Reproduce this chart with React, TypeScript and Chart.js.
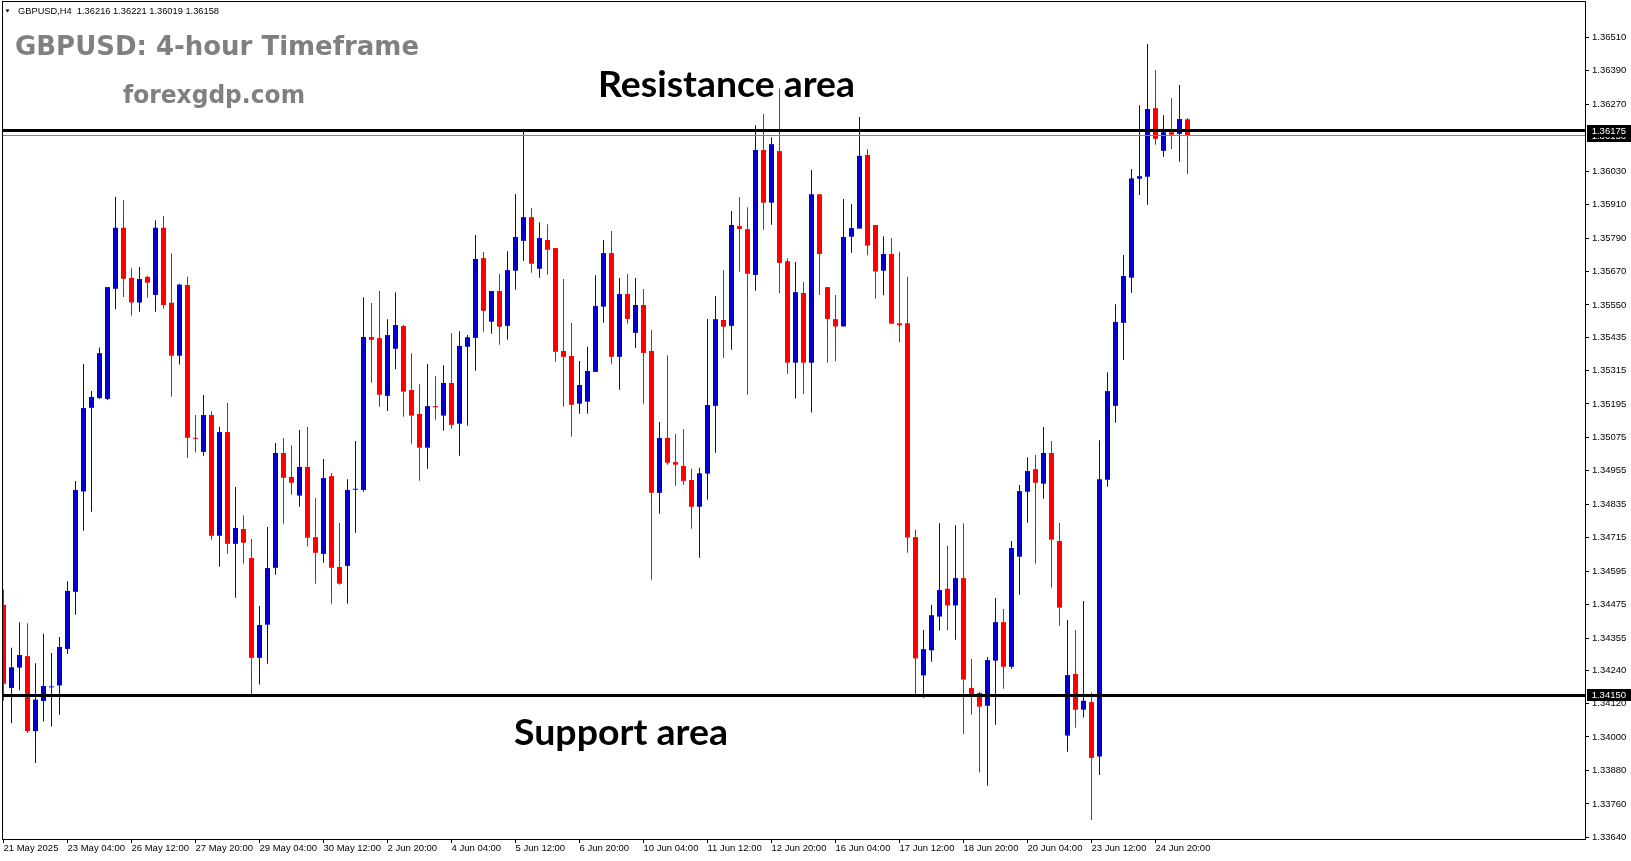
import React, { useEffect, useRef } from 'react';
import { Chart, registerables } from 'chart.js';

Chart.register(...registerables);

// ---- Candle data (GBPUSD H4), one entry per bar, oldest first ----
const opens = [
  1.34474, 1.34176, 1.34249, 1.34290, 1.34021, 1.34129, 1.34178, 1.34185, 1.34316, 1.34521,
  1.34881, 1.35181, 1.35216, 1.35213, 1.35608, 1.35827, 1.35647, 1.35559, 1.35651, 1.35586,
  1.35827, 1.35558, 1.35368, 1.35622, 1.35073, 1.35023, 1.35155, 1.34722, 1.35094, 1.34693,
  1.34746, 1.34642, 1.34284, 1.34403, 1.34607, 1.35019, 1.34933, 1.34866, 1.34969, 1.34717,
  1.34657, 1.34936, 1.34610, 1.34614, 1.34887, 1.34886, 1.35435, 1.35431, 1.35224, 1.35393,
  1.35474, 1.35245, 1.35159, 1.35038, 1.35187, 1.35153, 1.35270, 1.35124, 1.35400, 1.35432,
  1.35718, 1.35490, 1.35600, 1.35475, 1.35673, 1.35780, 1.35865, 1.35680, 1.35783, 1.35754,
  1.35385, 1.35367, 1.35196, 1.35203, 1.35310, 1.35544, 1.35736, 1.35364, 1.35589, 1.35450,
  1.35550, 1.35385, 1.34876, 1.35073, 1.34986, 1.34972, 1.34922, 1.34826, 1.34945, 1.35188,
  1.35496, 1.35475, 1.35833, 1.35822, 1.35658, 1.36106, 1.35917, 1.36102, 1.35707, 1.35343,
  1.35593, 1.35343, 1.35947, 1.35614, 1.35499, 1.35473, 1.35795, 1.35824, 1.36088, 1.35837,
  1.35673, 1.35733, 1.35484, 1.35484, 1.34717, 1.34221, 1.34311, 1.34432, 1.34532, 1.34472,
  1.34570, 1.34176, 1.34158, 1.34112, 1.34274, 1.34412, 1.34252, 1.34647, 1.34880, 1.34961,
  1.34909, 1.35019, 1.34703, 1.34005, 1.34226, 1.34098, 1.34125, 1.33930, 1.34923, 1.35188,
  1.35486, 1.35648, 1.36003, 1.36010, 1.36256, 1.36103, 1.36170, 1.36164, 1.36216,
];
const highs = [
  1.34529, 1.34320, 1.34412, 1.34408, 1.34265, 1.34370, 1.34301, 1.34359, 1.34559, 1.34918,
  1.35338, 1.35241, 1.35397, 1.35614, 1.35938, 1.35927, 1.35682, 1.35686, 1.35655, 1.35854,
  1.35869, 1.35736, 1.35626, 1.35651, 1.35155, 1.35227, 1.35169, 1.35113, 1.35198, 1.34897,
  1.34796, 1.34710, 1.34470, 1.34753, 1.35055, 1.35073, 1.35047, 1.35101, 1.35112, 1.34857,
  1.34997, 1.34947, 1.34768, 1.34925, 1.35062, 1.35578, 1.35557, 1.35600, 1.35499, 1.35596,
  1.35478, 1.35377, 1.35266, 1.35338, 1.35295, 1.35334, 1.35449, 1.35456, 1.35442, 1.35801,
  1.35740, 1.35600, 1.35661, 1.35743, 1.35948, 1.36171, 1.35898, 1.35847, 1.35840, 1.35754,
  1.35643, 1.35485, 1.35349, 1.35400, 1.35657, 1.35783, 1.35815, 1.35647, 1.35661, 1.35647,
  1.35607, 1.35460, 1.35130, 1.35370, 1.35087, 1.35105, 1.34962, 1.34966, 1.35500, 1.35582,
  1.35675, 1.35887, 1.35937, 1.35901, 1.36195, 1.36235, 1.36152, 1.36327, 1.35718, 1.35704,
  1.35632, 1.36034, 1.35947, 1.35614, 1.35586, 1.35930, 1.35912, 1.36224, 1.36109, 1.35837,
  1.35797, 1.35790, 1.35741, 1.35651, 1.34744, 1.34384, 1.34474, 1.34767, 1.34687, 1.34760,
  1.34767, 1.34280, 1.34162, 1.34287, 1.34499, 1.34459, 1.34703, 1.34904, 1.35004, 1.35012,
  1.35112, 1.35062, 1.34768, 1.34420, 1.34384, 1.34488, 1.34160, 1.35065, 1.35309, 1.35553,
  1.35729, 1.36038, 1.36267, 1.36486, 1.36393, 1.36231, 1.36292, 1.36339, 1.36221,
];
const lows = [
  1.34131, 1.34049, 1.34168, 1.34014, 1.33907, 1.34056, 1.34038, 1.34080, 1.34298, 1.34439,
  1.34740, 1.34808, 1.35213, 1.35209, 1.35535, 1.35579, 1.35512, 1.35526, 1.35577, 1.35526,
  1.35537, 1.35221, 1.35336, 1.35001, 1.35021, 1.35009, 1.34708, 1.34611, 1.34657, 1.34500,
  1.34622, 1.34154, 1.34188, 1.34263, 1.34582, 1.34765, 1.34869, 1.34826, 1.34683, 1.34550,
  1.34625, 1.34478, 1.34546, 1.34478, 1.34733, 1.34880, 1.35271, 1.35185, 1.35170, 1.35319,
  1.35149, 1.35052, 1.34919, 1.34962, 1.35138, 1.35099, 1.35106, 1.35009, 1.35117, 1.35314,
  1.35454, 1.35447, 1.35407, 1.35425, 1.35605, 1.35709, 1.35666, 1.35648, 1.35658, 1.35346,
  1.35185, 1.35077, 1.35160, 1.35160, 1.35310, 1.35486, 1.35339, 1.35246, 1.35483, 1.35396,
  1.35196, 1.34564, 1.34801, 1.34977, 1.34901, 1.34905, 1.34747, 1.34643, 1.34851, 1.35020,
  1.35361, 1.35389, 1.35669, 1.35228, 1.35601, 1.35820, 1.35838, 1.35592, 1.35303, 1.35214,
  1.35230, 1.35164, 1.35586, 1.35343, 1.35348, 1.35473, 1.35737, 1.35824, 1.35728, 1.35572,
  1.35585, 1.35483, 1.35415, 1.34661, 1.34151, 1.34141, 1.34270, 1.34382, 1.34382, 1.34349,
  1.34011, 1.34080, 1.33873, 1.33825, 1.34044, 1.34173, 1.34245, 1.34510, 1.34769, 1.34622,
  1.34855, 1.34536, 1.34399, 1.33947, 1.34033, 1.34070, 1.33702, 1.33864, 1.34898, 1.35127,
  1.35353, 1.35594, 1.35945, 1.35910, 1.36125, 1.36082, 1.36110, 1.36064, 1.36019,
];
const closes = [
  1.34191, 1.34250, 1.34294, 1.34021, 1.34134, 1.34183, 1.34180, 1.34323, 1.34524, 1.34886,
  1.35180, 1.35220, 1.35377, 1.35614, 1.35827, 1.35644, 1.35559, 1.35643, 1.35630, 1.35827,
  1.35550, 1.35368, 1.35623, 1.35074, 1.35070, 1.35155, 1.34722, 1.35094, 1.34693, 1.34750,
  1.34697, 1.34284, 1.34402, 1.34606, 1.35019, 1.34930, 1.34912, 1.34969, 1.34715, 1.34661,
  1.34929, 1.34607, 1.34550, 1.34886, 1.34890, 1.35435, 1.35425, 1.35228, 1.35442, 1.35478,
  1.35239, 1.35153, 1.35038, 1.35187, 1.35183, 1.35270, 1.35120, 1.35403, 1.35434, 1.35715,
  1.35529, 1.35600, 1.35472, 1.35675, 1.35794, 1.35865, 1.35698, 1.35790, 1.35748, 1.35382,
  1.35364, 1.35192, 1.35263, 1.35313, 1.35546, 1.35736, 1.35364, 1.35589, 1.35500, 1.35550,
  1.35378, 1.34876, 1.35073, 1.34984, 1.34977, 1.34919, 1.34826, 1.34946, 1.35191, 1.35499,
  1.35472, 1.35837, 1.35823, 1.35662, 1.36106, 1.35917, 1.36127, 1.35701, 1.35343, 1.35596,
  1.35343, 1.35947, 1.35733, 1.35500, 1.35473, 1.35794, 1.35826, 1.36085, 1.35763, 1.35670,
  1.35733, 1.35483, 1.35477, 1.34716, 1.34282, 1.34315, 1.34437, 1.34527, 1.34472, 1.34570,
  1.34206, 1.34153, 1.34109, 1.34276, 1.34412, 1.34252, 1.34678, 1.34882, 1.34954, 1.34912,
  1.35019, 1.34708, 1.34464, 1.34222, 1.34098, 1.34130, 1.33925, 1.34925, 1.35241, 1.35489,
  1.35654, 1.36004, 1.36012, 1.36253, 1.36146, 1.36170, 1.36161, 1.36217, 1.36158,
];

// ---- Axis labels ----
const xTickBars = [0, 8, 16, 24, 32, 40, 48, 56, 64, 72, 80, 88, 96, 104, 112, 120, 128, 136, 144];
const xTickLabels = [
  '21 May 2025', '23 May 04:00', '26 May 12:00', '27 May 20:00', '29 May 04:00', '30 May 12:00',
  '2 Jun 20:00', '4 Jun 04:00', '5 Jun 12:00', '6 Jun 20:00', '10 Jun 04:00', '11 Jun 12:00',
  '12 Jun 20:00', '16 Jun 04:00', '17 Jun 12:00', '18 Jun 20:00', '20 Jun 04:00', '23 Jun 12:00',
  '24 Jun 20:00',
];
const yTickLabels = [
  '1.36510', '1.36390', '1.36270', '1.36030', '1.35910', '1.35790', '1.35670', '1.35550',
  '1.35435', '1.35315', '1.35195', '1.35075', '1.34955', '1.34835', '1.34715', '1.34595',
  '1.34475', '1.34355', '1.34240', '1.34120', '1.34000', '1.33880', '1.33760', '1.33640',
];

// ---- Horizontal levels ----
const levelLabels = ['1.36158', '1.36175', '1.34150']; // bid, resistance, support
const bidLevel = parseFloat(levelLabels[0]);
const resistanceLevel = parseFloat(levelLabels[1]);
const supportLevel = parseFloat(levelLabels[2]);

const symbolName = 'GBPUSD,H4';
const titleText = 'GBPUSD: 4-hour Timeframe';
const siteText = 'forexgdp.com';
const resistanceText = 'Resistance area';
const supportText = 'Support area';

const X_MIN = -0.0625;
const X_MAX = 197.6875;
const Y_MIN = 1.33634;
const Y_MAX = 1.36637;

const BULL = '#0000cd';
const BEAR = '#ff0000';
const AXIS_FONT = { family: 'Liberation Sans', size: 9.5 };

export default function App() {
  const canvasRef = useRef<HTMLCanvasElement | null>(null);

  useEffect(() => {
    const canvas = canvasRef.current;
    if (!canvas) return;
    const colors = closes.map((c, i) => (c >= opens[i] ? BULL : BEAR));
    const wickData = highs.map((h, i) => ({ x: i, y: [lows[i], h] }));
    const bodyData = opens.map((o, i) => ({
      x: i,
      y: [Math.min(o, closes[i]), Math.max(o, closes[i])],
    }));

    const overlay = {
      id: 'mtOverlay',
      afterDatasetsDraw(chart: any) {
        const { ctx, chartArea: a } = chart;
        const ys = chart.scales.y;
        ctx.save();
        const yb = Math.floor(ys.getPixelForValue(bidLevel)) + 0.5;
        ctx.strokeStyle = '#778899';
        ctx.lineWidth = 1;
        ctx.beginPath();
        ctx.moveTo(a.left, yb);
        ctx.lineTo(a.right, yb);
        ctx.stroke();
        [resistanceLevel, supportLevel].forEach((lvl) => {
          const yy = Math.floor(ys.getPixelForValue(lvl)) + 0.5;
          ctx.strokeStyle = '#000000';
          ctx.lineWidth = 3;
          ctx.beginPath();
          ctx.moveTo(a.left, yy);
          ctx.lineTo(a.right, yy);
          ctx.stroke();
        });
        ctx.restore();
      },
      afterDraw(chart: any) {
        const { ctx, chartArea: a } = chart;
        const ys = chart.scales.y;
        ctx.save();
        ctx.strokeStyle = '#000000';
        ctx.lineWidth = 1;
        ctx.strokeRect(a.left - 0.5, a.top - 0.5, a.right - a.left + 1, a.bottom - a.top + 1);
        ctx.font = '9.5px "Liberation Sans"';
        ctx.textBaseline = 'middle';
        ctx.textAlign = 'left';
        levelLabels.forEach((txt) => {
          const v = parseFloat(txt);
          const yy = ys.getPixelForValue(v);
          ctx.fillStyle = '#000000';
          ctx.fillRect(a.right + 2, Math.round(yy) - 6, 50, 12);
          ctx.fillStyle = '#ffffff';
          ctx.fillText(txt, a.right + 6.7, yy + 0.5);
        });
        ctx.restore();
      },
    };

    const chart = new Chart(canvas, {
      type: 'bar',
      data: {
        datasets: [
          {
            data: wickData as any,
            backgroundColor: colors,
            barThickness: 1,
            grouped: false,
            borderWidth: 0,
            inflateAmount: 0,
          } as any,
          {
            data: bodyData as any,
            backgroundColor: colors,
            barThickness: 5,
            grouped: false,
            borderWidth: 0,
            inflateAmount: 0,
            minBarLength: 1,
          } as any,
        ],
      },
      options: {
        animation: false,
        responsive: false,
        maintainAspectRatio: false,
        devicePixelRatio: 1,
        events: [],
        layout: { padding: { left: 3, top: 2, right: 0, bottom: 0 } },
        plugins: {
          legend: { display: false },
          tooltip: { enabled: false },
          title: { display: false },
        },
        scales: {
          x: {
            type: 'linear',
            min: X_MIN,
            max: X_MAX,
            offset: false,
            bounds: 'data',
            grid: {
              display: true,
              drawOnChartArea: false,
              drawTicks: true,
              tickLength: 4,
              color: '#000000',
              offset: false,
            },
            border: { display: false },
            ticks: {
              autoSkip: false,
              maxRotation: 0,
              minRotation: 0,
              align: 'start',
              padding: 0,
              color: '#000000',
              font: AXIS_FONT,
              callback: (_v: any, idx: number) => xTickLabels[idx] ?? '',
            },
            afterBuildTicks: (s: any) => {
              s.ticks = xTickBars.map((b) => ({ value: b }));
            },
            afterFit: (s: any) => {
              s.height = 22;
              s.paddingLeft = 0;
              s.paddingRight = 0;
            },
          } as any,
          y: {
            type: 'linear',
            position: 'right',
            min: Y_MIN,
            max: Y_MAX,
            bounds: 'data',
            grid: {
              display: true,
              drawOnChartArea: false,
              drawTicks: true,
              tickLength: 4,
              color: '#000000',
            },
            border: { display: false },
            ticks: {
              autoSkip: false,
              padding: 3,
              color: '#000000',
              font: AXIS_FONT,
              callback: (_v: any, idx: number) => yTickLabels[idx] ?? '',
            },
            afterBuildTicks: (s: any) => {
              s.ticks = yTickLabels.map((t) => ({ value: parseFloat(t) }));
            },
            afterFit: (s: any) => {
              s.width = 46;
              s.paddingTop = 0;
              s.paddingBottom = 0;
            },
          } as any,
        },
      } as any,
      plugins: [overlay as any],
    });
    return () => chart.destroy();
  }, []);

  const last = opens.length - 1;
  const headerText = `${symbolName}  ${opens[last].toFixed(5)} ${highs[last].toFixed(5)} ${lows[last].toFixed(5)} ${closes[last].toFixed(5)}`;

  return (
    <div style={{ position: 'absolute', left: 0, top: 0, width: 1631, height: 861, background: '#ffffff', overflow: 'hidden' }}>
      <canvas
        ref={canvasRef}
        width={1631}
        height={861}
        style={{ position: 'absolute', left: 0, top: 0, width: 1631, height: 861, display: 'block' }}
      />
      <svg
        width={1631}
        height={861}
        style={{ position: 'absolute', left: 0, top: 0, pointerEvents: 'none' }}
      >
        <polygon points="5.5,9.5 9.5,9.5 7.5,12.5" fill="#000000" />
        <text
          x={18}
          y={14}
          fontFamily="Liberation Sans"
          fontSize={9.5}
          fill="#000000"
          textLength={201}
          lengthAdjust="spacingAndGlyphs"
          style={{ whiteSpace: 'pre' }}
        >
          {headerText}
        </text>
        <text x={15} y={55} fontFamily="DejaVu Sans" fontWeight="bold" fontSize={27} fill="#808080" textLength={404} lengthAdjust="spacingAndGlyphs">
          {titleText}
        </text>
        <text x={123} y={103} fontFamily="DejaVu Sans" fontWeight="bold" fontSize={25} fill="#808080" textLength={182} lengthAdjust="spacingAndGlyphs">
          {siteText}
        </text>
        <text x={598} y={97} fontFamily="Lato" fontWeight="bold" fontSize={37} fill="#000000" textLength={257} lengthAdjust="spacingAndGlyphs">
          {resistanceText}
        </text>
        <text x={514} y={745} fontFamily="Lato" fontWeight="bold" fontSize={37} fill="#000000" textLength={214} lengthAdjust="spacingAndGlyphs">
          {supportText}
        </text>
      </svg>
    </div>
  );
}
